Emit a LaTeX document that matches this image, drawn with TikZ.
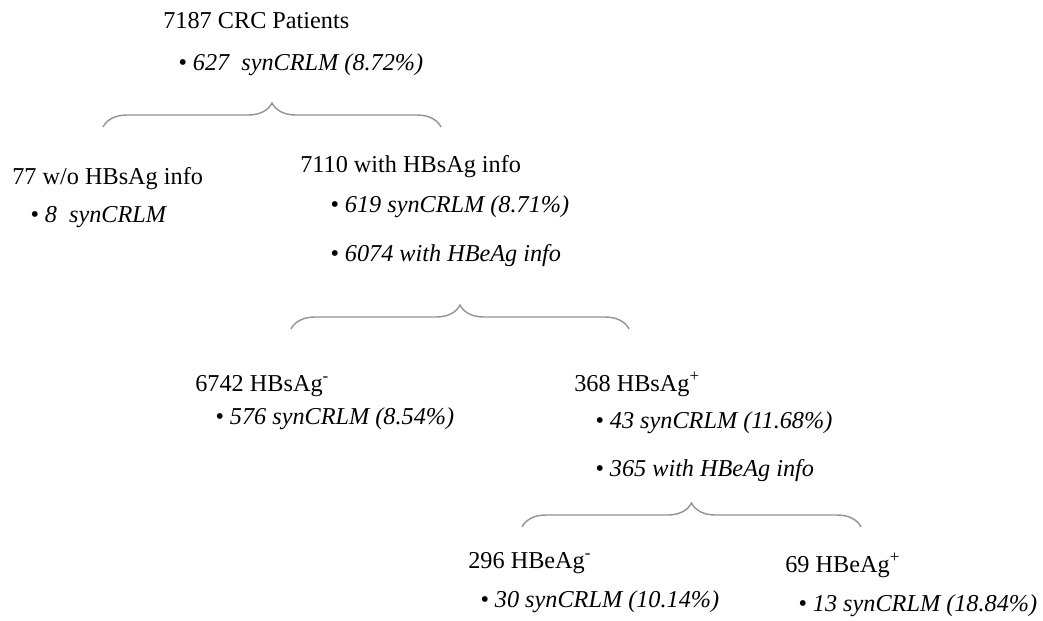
\documentclass[tikz,border=0pt]{standalone}
\usepackage{fontspec}
\setmainfont{Liberation Serif}
\usetikzlibrary{decorations.pathreplacing}
\tikzset{
  head/.style={anchor=base west, inner sep=0pt, font=\fontsize{13.8}{16}\selectfont},
  item/.style={anchor=base west, inner sep=0pt, font=\fontsize{13.8}{16}\selectfont\itshape},
  bracket/.style={draw=gray!85, line width=0.8pt, decorate, decoration={brace, amplitude=0.48cm}}
}
\begin{document}
\begin{tikzpicture}[x=0.02cm, y=-0.02cm]
  \useasboundingbox (0,0) rectangle (1043,620);
  % top level
  \node[head] (crc) at (163,28) {7187 CRC Patients};
  \node[item] (crcsyn) at (178,70) {\textbullet\ 627~ synCRLM (8.72\%)};
  \coordinate (b1l) at (103,127); \coordinate (b1r) at (441,127);
  \draw[bracket] (b1l) -- (b1r);
  % HBsAg info
  \node[head] (noinfo) at (12,184) {77 w/o HBsAg info};
  \node[item] (noinfosyn) at (30,222) {\textbullet\ 8~ synCRLM};
  \node[head] (info) at (300,172) {7110 with HBsAg info};
  \node[item] (infosyn) at (330,212) {\textbullet\ 619 synCRLM (8.71\%)};
  \node[item] (infohbe) at (330,261) {\textbullet\ 6074 with HBeAg info};
  \coordinate (b2l) at (291,329); \coordinate (b2r) at (629,329);
  \draw[bracket] (b2l) -- (b2r);
  % HBsAg status
  \node[head] (neg) at (195,391) {6742 HBsAg\textsuperscript{-}};
  \node[item] (negsyn) at (215,424) {\textbullet\ 576 synCRLM (8.54\%)};
  \node[head] (pos) at (574,391) {368 HBsAg\textsuperscript{+}};
  \node[item] (possyn) at (595,428) {\textbullet\ 43 synCRLM (11.68\%)};
  \node[item] (poshbe) at (595,476) {\textbullet\ 365 with HBeAg info};
  \coordinate (b3l) at (522,527); \coordinate (b3r) at (861,527);
  \draw[bracket] (b3l) -- (b3r);
  % HBeAg status
  \node[head] (eneg) at (468,568) {296 HBeAg\textsuperscript{-}};
  \node[item] (enegsyn) at (480,607) {\textbullet\ 30 synCRLM (10.14\%)};
  \node[head] (epos) at (785,572) {69 HBeAg\textsuperscript{+}};
  \node[item] (epossyn) at (798,611) {\textbullet\ 13 synCRLM (18.84\%)};
\end{tikzpicture}
\end{document}
